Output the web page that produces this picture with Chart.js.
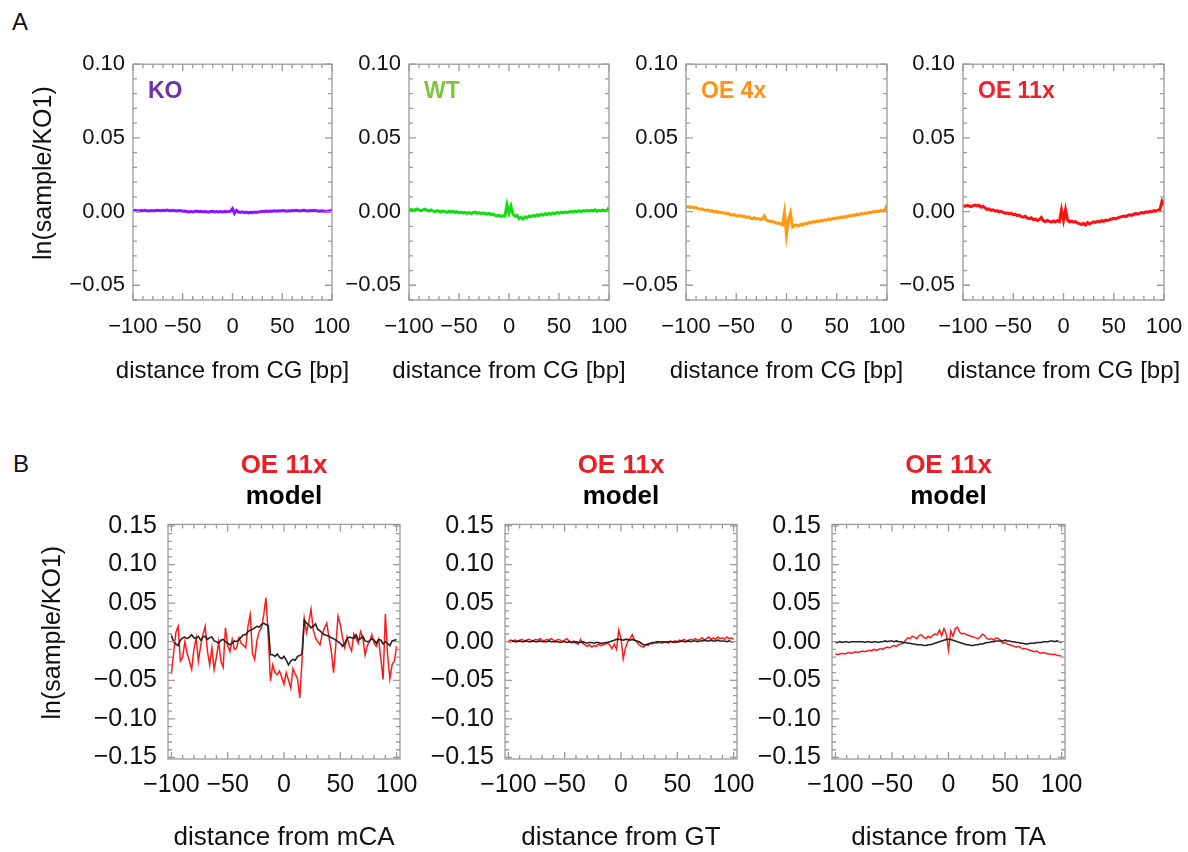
<!DOCTYPE html>
<html>
<head>
<meta charset="utf-8">
<script src="https://cdn.jsdelivr.net/npm/chart.js@4.4.1/dist/chart.umd.min.js"></script>
<style>
  html, body { margin: 0; padding: 0; background: #fff; overflow: hidden; }
  body { width: 1188px; height: 852px; position: relative; font-family: 'Liberation Sans', Arial, sans-serif; }
  canvas { position: absolute; }
  .tag { position: absolute; font-size: 24px; color: #111; line-height: 27px; }
</style>
</head>
<body>
<div class="tag" style="left:12px;top:8px">A</div>
<div class="tag" style="left:13px;top:450px">B</div>
<canvas id="a1"></canvas>
<canvas id="a2"></canvas>
<canvas id="a3"></canvas>
<canvas id="a4"></canvas>
<canvas id="b1"></canvas>
<canvas id="b2"></canvas>
<canvas id="b3"></canvas>
<script>
// distance from site [bp], every 2 bp
var X = [-100,-98,-96,-94,-92,-90,-88,-86,-84,-82,
         -80,-78,-76,-74,-72,-70,-68,-66,-64,-62,
         -60,-58,-56,-54,-52,-50,-48,-46,-44,-42,
         -40,-38,-36,-34,-32,-30,-28,-26,-24,-22,
         -20,-18,-16,-14,-12,-10,-8,-6,-4,-2,
         0,2,4,6,8,10,12,14,16,18,
         20,22,24,26,28,30,32,34,36,38,
         40,42,44,46,48,50,52,54,56,58,
         60,62,64,66,68,70,72,74,76,78,
         80,82,84,86,88,90,92,94,96,98,
         100]

var X_TICKS = [-100, -50, 0, 50, 100]
var YA_TICKS = [-0.05, 0, 0.05, 0.10]
var YB_TICKS = [-0.15, -0.10, -0.05, 0, 0.05, 0.10, 0.15]

// panel A, ln(sample/KO1) around CG
var ko = [0.0005,0.0008,0.0006,0.0004,0.0007,0.0005,0.0009,0.0006,0.0004,0.0007,
          0.0005,0.0006,0.0009,0.0007,0.0005,0.0008,0.0006,0.0010,0.0007,0.0005,
          0.0008,0.0006,0.0004,0.0007,0.0005,0.0002,0.0004,0.0001,-0.0002,0.0001,
          -0.0003,0.0000,0.0003,-0.0001,0.0002,-0.0002,0.0001,-0.0001,-0.0004,0.0000,
          0.0002,-0.0002,0.0001,-0.0003,0.0000,-0.0002,0.0001,-0.0001,0.0000,0.0003,
          0.0020,-0.0012,0.0008,-0.0003,-0.0006,-0.0002,-0.0008,-0.0004,-0.0009,-0.0005,
          -0.0007,-0.0003,-0.0006,-0.0002,-0.0001,0.0002,-0.0001,0.0003,0.0001,0.0004,
          0.0002,0.0005,0.0003,0.0006,0.0004,0.0007,0.0005,0.0003,0.0006,0.0004,
          0.0007,0.0005,0.0008,0.0006,0.0004,0.0007,0.0009,0.0006,0.0004,0.0007,
          0.0005,0.0008,0.0006,0.0004,0.0002,0.0005,0.0003,0.0001,0.0004,0.0002,
          0.0012]
var wt = [0.0010,0.0015,0.0008,0.0012,0.0018,0.0010,0.0006,0.0012,0.0016,0.0009,
          0.0005,0.0011,0.0004,-0.0002,0.0006,0.0002,-0.0003,0.0004,0.0000,-0.0005,
          0.0002,-0.0004,0.0003,-0.0006,-0.0001,-0.0008,-0.0003,-0.0010,-0.0005,-0.0012,
          -0.0006,-0.0014,-0.0008,-0.0004,-0.0012,-0.0007,-0.0015,-0.0009,-0.0013,-0.0018,
          -0.0012,-0.0020,-0.0016,-0.0026,-0.0030,-0.0024,-0.0034,-0.0028,-0.0030,0.0048,
          -0.0008,0.0036,-0.0018,-0.0032,-0.0026,-0.0048,-0.0040,-0.0050,-0.0036,-0.0042,
          -0.0030,-0.0036,-0.0026,-0.0032,-0.0022,-0.0028,-0.0018,-0.0024,-0.0015,-0.0020,
          -0.0012,-0.0018,-0.0010,-0.0014,-0.0006,-0.0012,-0.0004,-0.0009,-0.0002,-0.0008,
          -0.0003,0.0002,-0.0004,0.0003,-0.0001,0.0005,0.0000,0.0006,0.0002,0.0008,
          0.0003,0.0009,0.0004,0.0012,0.0002,0.0008,0.0004,0.0010,0.0006,0.0009,
          0.0028]
var oe4 = [0.0030,0.0034,0.0028,0.0032,0.0025,0.0027,0.0020,0.0016,0.0019,0.0011,
           0.0008,0.0010,0.0003,0.0006,-0.0002,0.0001,-0.0006,-0.0003,-0.0010,-0.0008,
           -0.0015,-0.0012,-0.0020,-0.0024,-0.0019,-0.0028,-0.0030,-0.0026,-0.0035,-0.0031,
           -0.0040,-0.0036,-0.0044,-0.0048,-0.0042,-0.0050,-0.0047,-0.0055,-0.0050,-0.0030,
           -0.0058,-0.0062,-0.0068,-0.0064,-0.0072,-0.0080,-0.0076,-0.0084,-0.0090,-0.0005,
           -0.0160,-0.0060,-0.0010,-0.0105,-0.0095,-0.0090,-0.0098,-0.0086,-0.0092,-0.0080,
           -0.0084,-0.0074,-0.0078,-0.0068,-0.0072,-0.0064,-0.0068,-0.0060,-0.0063,-0.0056,
           -0.0059,-0.0050,-0.0054,-0.0046,-0.0049,-0.0042,-0.0045,-0.0038,-0.0040,-0.0034,
           -0.0036,-0.0028,-0.0031,-0.0024,-0.0026,-0.0018,-0.0022,-0.0014,-0.0016,-0.0010,
           -0.0012,-0.0005,-0.0008,0.0000,-0.0003,0.0004,0.0001,0.0008,0.0004,0.0012,
           0.0045]
var oe11 = [0.0040,0.0036,0.0042,0.0038,0.0034,0.0040,0.0044,0.0039,0.0042,0.0030,
            0.0036,0.0025,0.0014,0.0018,0.0008,0.0012,0.0003,0.0006,-0.0002,0.0002,
            -0.0006,-0.0012,-0.0008,-0.0016,-0.0011,-0.0022,-0.0018,-0.0028,-0.0024,-0.0034,
            -0.0038,-0.0032,-0.0044,-0.0048,-0.0042,-0.0056,-0.0050,-0.0060,-0.0054,-0.0040,
            -0.0062,-0.0068,-0.0060,-0.0066,-0.0072,-0.0064,-0.0070,-0.0062,-0.0068,0.0010,
            -0.0060,0.0012,-0.0055,-0.0070,-0.0065,-0.0072,-0.0068,-0.0078,-0.0082,-0.0088,
            -0.0080,-0.0092,-0.0075,-0.0084,-0.0076,-0.0070,-0.0074,-0.0066,-0.0070,-0.0062,
            -0.0066,-0.0058,-0.0062,-0.0054,-0.0050,-0.0046,-0.0050,-0.0042,-0.0038,-0.0034,
            -0.0030,-0.0034,-0.0026,-0.0022,-0.0026,-0.0018,-0.0014,-0.0018,-0.0010,-0.0006,
            -0.0010,-0.0002,-0.0005,0.0002,-0.0001,0.0006,0.0003,0.0010,0.0014,0.0070,
            0.0045]

// panel B, OE 11x data vs model
var mcaData = [-0.042,-0.015,0.012,0.020,-0.025,-0.020,0.000,-0.015,-0.025,-0.036,
               -0.010,0.005,-0.025,-0.005,0.009,0.020,-0.012,-0.030,-0.008,-0.036,
               -0.020,0.000,-0.025,-0.033,0.018,-0.005,-0.013,0.003,-0.010,-0.008,
               0.005,-0.002,-0.005,-0.008,0.020,0.035,-0.015,-0.023,0.002,0.013,
               0.018,0.035,0.057,0.008,-0.051,-0.030,-0.040,-0.043,-0.038,-0.046,
               -0.055,-0.040,-0.050,-0.060,-0.035,-0.042,-0.048,-0.073,-0.025,0.030,
               0.012,0.025,0.042,0.015,0.005,0.000,-0.004,0.010,0.018,0.024,
               0.005,-0.012,-0.040,-0.005,0.033,0.022,0.005,-0.008,0.006,-0.005,
               -0.012,0.010,0.004,-0.002,0.013,0.005,-0.017,-0.005,0.000,0.009,
               -0.002,-0.006,0.003,-0.022,-0.049,0.036,-0.017,-0.048,-0.030,-0.025,
               -0.006]
var mcaModel = [0.008,0.000,-0.003,-0.005,0.002,0.005,0.006,0.004,0.006,0.009,
                0.005,0.004,0.007,0.002,0.006,0.007,0.003,0.005,0.006,0.001,
                0.000,-0.002,0.002,0.003,0.000,-0.002,-0.004,-0.002,0.001,0.000,
                0.003,0.006,0.009,0.009,0.013,0.015,0.016,0.018,0.020,0.019,
                0.022,0.024,0.022,0.021,-0.017,-0.017,-0.019,-0.016,-0.020,-0.022,
                -0.019,-0.024,-0.030,-0.025,-0.023,-0.024,-0.019,-0.018,-0.016,0.028,
                0.024,0.022,0.018,0.020,0.023,0.016,0.014,0.011,0.009,0.008,
                0.007,0.005,0.004,0.002,0.000,-0.002,-0.006,-0.002,0.004,0.006,
                0.005,0.004,0.009,0.002,0.004,0.007,0.001,0.000,0.001,0.004,
                0.002,-0.002,0.003,0.002,-0.003,0.000,-0.002,-0.005,0.001,0.002,
                0.003]
var gtData = [0.001,0.002,0.001,0.002,0.001,0.002,0.003,0.001,0.002,0.003,
              0.002,0.001,0.003,0.002,0.004,0.002,0.001,0.003,0.002,0.004,
              0.002,0.001,0.003,0.002,0.000,0.002,0.004,0.001,-0.001,0.001,
              -0.002,-0.003,0.003,-0.002,-0.004,-0.006,-0.004,-0.007,-0.005,-0.006,
              -0.003,-0.005,-0.004,-0.003,-0.002,-0.004,-0.009,-0.003,-0.010,0.015,
              0.004,-0.022,-0.008,0.000,0.004,0.009,0.002,0.000,-0.004,-0.006,
              -0.007,-0.004,-0.005,-0.002,-0.003,-0.001,-0.002,0.000,-0.002,-0.001,
              0.000,-0.002,0.001,-0.001,0.001,0.000,0.002,0.001,0.003,0.001,
              0.002,0.003,0.002,0.004,0.002,0.003,0.005,0.002,0.004,0.006,
              0.003,0.005,0.003,0.006,0.004,0.005,0.003,0.006,0.004,0.005,
              0.003]
var gtModel = [0.000,0.000,0.001,0.000,0.000,0.001,0.000,0.000,0.001,0.000,
               0.000,0.001,0.000,0.000,0.001,0.000,0.000,0.000,0.001,0.000,
               0.000,0.000,0.000,-0.001,0.000,0.000,-0.001,0.000,-0.001,-0.001,
               0.000,-0.001,-0.001,0.000,-0.001,-0.002,-0.001,-0.001,-0.002,-0.001,
               -0.001,-0.002,-0.002,-0.001,-0.001,0.000,0.001,0.002,0.003,0.003,
               0.003,0.002,0.003,0.003,0.002,0.003,0.002,0.001,0.000,-0.002,
               -0.004,-0.004,-0.003,-0.002,-0.001,-0.001,0.000,-0.001,0.000,0.000,
               -0.001,0.000,0.000,0.000,-0.001,0.000,0.000,0.001,0.000,0.000,
               0.001,0.000,0.001,0.001,0.000,0.001,0.001,0.002,0.001,0.001,
               0.002,0.001,0.001,0.002,0.001,0.001,0.001,0.000,0.001,0.000,
               0.000]
var taData = [-0.016,-0.017,-0.016,-0.015,-0.016,-0.015,-0.014,-0.015,-0.014,-0.013,
              -0.014,-0.013,-0.012,-0.013,-0.012,-0.011,-0.012,-0.010,-0.011,-0.010,
              -0.009,-0.010,-0.008,-0.007,-0.008,-0.006,-0.005,-0.006,-0.004,-0.003,
              -0.002,0.002,0.005,0.004,0.007,0.006,0.004,0.008,0.009,0.006,
              0.004,0.007,0.005,0.008,0.010,0.009,0.015,0.008,0.017,0.010,
              -0.011,0.014,0.007,0.017,0.019,0.012,0.010,0.011,0.009,0.008,
              0.007,0.006,0.005,0.004,0.006,0.010,0.008,0.004,0.003,0.004,
              0.002,0.005,0.004,0.002,-0.002,-0.001,-0.003,-0.004,-0.005,-0.006,
              -0.007,-0.006,-0.008,-0.009,-0.009,-0.010,-0.011,-0.012,-0.013,-0.012,
              -0.014,-0.015,-0.014,-0.015,-0.016,-0.016,-0.017,-0.016,-0.018,-0.018,
              -0.019]
var taModel = [-0.001,-0.001,0.000,-0.001,0.000,0.000,-0.001,0.000,0.000,0.000,
               0.000,0.000,0.000,-0.001,0.000,0.000,-0.001,0.000,0.000,-0.001,
               0.000,0.000,0.001,0.000,0.001,0.001,0.000,0.001,0.000,0.000,
               -0.001,-0.001,-0.002,-0.002,-0.003,-0.003,-0.004,-0.004,-0.004,-0.005,
               -0.005,-0.004,-0.004,-0.003,-0.002,-0.001,0.000,0.001,0.002,0.003,
               0.003,0.003,0.002,0.001,0.000,-0.001,-0.002,-0.003,-0.004,-0.004,
               -0.005,-0.005,-0.004,-0.004,-0.003,-0.003,-0.002,-0.001,-0.001,0.000,
               0.000,0.001,0.001,0.001,0.001,0.002,0.001,0.001,0.000,0.000,
               -0.001,-0.001,-0.002,-0.002,-0.003,-0.003,-0.002,-0.002,-0.002,-0.001,
               -0.001,-0.001,0.000,0.000,0.000,0.001,0.001,0.000,0.001,0.000,
               -0.001]

var FONT = "'Liberation Sans', Arial, sans-serif"
Chart.defaults.font.family = FONT
Chart.defaults.color = '#111'

function minus(v, d) {
    var s = Math.abs(v).toFixed(d)
    return (v < -1e-9 ? '\u2212' : '') + s
}

function pts(ys) {
    return X.map(function (x, i) { return {x: x, y: ys[i]} })
}

// box with inward minor ticks on all four sides, panel label and axis titles
var frameTicks = {
    id: 'frameTicks',
    afterDatasetsDraw: function (chart, args, o) {
        var ctx = chart.ctx, a = chart.chartArea
        var xs = chart.scales.x, ys = chart.scales.y
        ctx.save()
        ctx.strokeStyle = '#9a9a9a'
        ctx.lineWidth = 1.3
        ctx.beginPath()
        for (var k = Math.ceil(xs.min / o.xStep - 1e-6); k * o.xStep <= xs.max + 1e-6; k++) {
            var px = xs.getPixelForValue(k * o.xStep)
            var len = (k % o.xEvery === 0) ? 7 : 4
            ctx.moveTo(px, a.bottom); ctx.lineTo(px, a.bottom - len)
            ctx.moveTo(px, a.top); ctx.lineTo(px, a.top + len)
        }
        for (var j = Math.ceil(ys.min / o.yStep - 1e-6); j * o.yStep <= ys.max + 1e-6; j++) {
            var py = ys.getPixelForValue(j * o.yStep)
            var l2 = (j % o.yEvery === 0) ? 7 : 4
            ctx.moveTo(a.left, py); ctx.lineTo(a.left + l2, py)
            ctx.moveTo(a.right, py); ctx.lineTo(a.right - l2, py)
        }
        ctx.stroke()
        ctx.strokeRect(a.left, a.top, a.right - a.left, a.bottom - a.top)

        ctx.textBaseline = 'middle'
        if (o.label) {
            ctx.font = 'bold 23px ' + FONT
            ctx.fillStyle = o.labelColor
            ctx.textAlign = 'left'
            ctx.fillText(o.label, a.left + 15, a.top + 27)
        }
        ctx.fillStyle = '#111'
        ctx.textAlign = 'center'
        ctx.font = o.xTitleSize + 'px ' + FONT
        ctx.fillText(o.xTitle, (a.left + a.right) / 2, a.bottom + o.xTitleOff)
        if (o.yTitle) {
            ctx.save()
            ctx.translate(o.yTitleX, (a.top + a.bottom) / 2 - 9)
            ctx.rotate(-Math.PI / 2)
            ctx.font = '25px ' + FONT
            ctx.fillText(o.yTitle, 0, 0)
            ctx.restore()
        }
        ctx.restore()
    }
}

function makePanel(p) {
    var cv = document.getElementById(p.id)
    cv.width = p.width
    cv.height = p.height
    cv.style.left = p.left + 'px'
    cv.style.top = p.top + 'px'
    var rowA = p.row === 'A'
    var plugins = {
        legend: {display: false},
        tooltip: {enabled: false},
        frameTicks: {xStep: 10, xEvery: 5, yStep: 0.01, yEvery: 5,
                     label: p.label, labelColor: p.labelColor,
                     xTitle: p.xTitle, xTitleSize: rowA ? 24 : 26, xTitleOff: rowA ? 71 : 79,
                     yTitle: p.yTitle, yTitleX: rowA ? 44 : 53}
    }
    if (!rowA) {
        plugins.title = {display: true, text: 'OE 11x', color: '#ee1c25', fullSize: false,
                         font: {size: 26, weight: 'bold', lineHeight: 1.2}, padding: 0}
        plugins.subtitle = {display: true, text: 'model', color: '#000', fullSize: false,
                            font: {size: 26, weight: 'bold', lineHeight: 1.2},
                            padding: {top: 0, bottom: 12}}
    }
    return new Chart(cv, {
        type: 'line',
        data: {datasets: p.datasets},
        options: {
            responsive: false,
            animation: false,
            events: [],
            layout: {padding: {top: p.padTop, right: 36, left: 0, bottom: 0}},
            elements: {point: {radius: 0}, line: {tension: 0}},
            scales: {
                x: {
                    type: 'linear',
                    min: rowA ? -100 : -103,
                    max: rowA ? 100 : 103,
                    afterBuildTicks: function (s) { s.ticks = X_TICKS.map(function (v) { return {value: v} }) },
                    afterFit: function (s) { s.height = p.axisH },
                    grid: {display: false, drawTicks: false},
                    border: {display: false},
                    ticks: {padding: rowA ? 14 : 11, maxRotation: 0, autoSkip: false,
                            font: {size: rowA ? 22 : 25},
                            callback: function (v) { return minus(v, 0) }},
                    title: {display: false}
                },
                y: {
                    min: rowA ? -0.06 : -0.152,
                    max: rowA ? 0.10 : 0.152,
                    afterBuildTicks: function (s) {
                        s.ticks = (rowA ? YA_TICKS : YB_TICKS).map(function (v) { return {value: v} })
                    },
                    afterFit: function (s) { s.width = p.axisW },
                    grid: {display: false, drawTicks: false},
                    border: {display: false},
                    ticks: {padding: rowA ? 8 : 11, autoSkip: false,
                            font: {size: rowA ? 22 : 25},
                            callback: function (v) { return minus(v, 2) }},
                    title: {display: false}
                }
            },
            plugins: plugins
        },
        plugins: [frameTicks]
    })
}

function lineSet(ys, color, w) {
    return {data: pts(ys), borderColor: color, backgroundColor: color, borderWidth: w, fill: false}
}

var xA = 'distance from CG [bp]'
var yT = 'ln(sample/KO1)'
makePanel({id: 'a1', row: 'A', left: 0, top: 43, width: 368, height: 342, padTop: 20, axisW: 133, axisH: 85,
           yTitle: yT, xTitle: xA, label: 'KO', labelColor: '#7030a8',
           datasets: [lineSet(ko, '#8a14ff', 3)]})
makePanel({id: 'a2', row: 'A', left: 344, top: 43, width: 301, height: 342, padTop: 20, axisW: 65, axisH: 85,
           xTitle: xA, label: 'WT', labelColor: '#80c341',
           datasets: [lineSet(wt, '#13dc13', 3)]})
makePanel({id: 'a3', row: 'A', left: 621, top: 43, width: 302, height: 342, padTop: 20, axisW: 65, axisH: 85,
           xTitle: xA, label: 'OE 4x', labelColor: '#ff9216',
           datasets: [lineSet(oe4, '#ff9a10', 3)]})
makePanel({id: 'a4', row: 'A', left: 898, top: 43, width: 302, height: 342, padTop: 20, axisW: 65, axisH: 85,
           xTitle: xA, label: 'OE 11x', labelColor: '#f0202c',
           datasets: [lineSet(oe11, '#ff1010', 3)]})

makePanel({id: 'b1', row: 'B', left: 0, top: 445, width: 436, height: 407, padTop: 5, axisW: 168, axisH: 93,
           yTitle: yT, xTitle: 'distance from mCA',
           datasets: [lineSet(mcaModel, '#222', 1.6), lineSet(mcaData, '#ff1a1a', 1.5)]})
makePanel({id: 'b2', row: 'B', left: 425, top: 445, width: 348, height: 407, padTop: 5, axisW: 80, axisH: 93,
           xTitle: 'distance from GT',
           datasets: [lineSet(gtModel, '#222', 1.6), lineSet(gtData, '#ff1a1a', 1.5)]})
makePanel({id: 'b3', row: 'B', left: 752, top: 445, width: 349, height: 407, padTop: 5, axisW: 80, axisH: 93,
           xTitle: 'distance from TA',
           datasets: [lineSet(taModel, '#222', 1.6), lineSet(taData, '#ff1a1a', 1.5)]})
</script>
</body>
</html>
